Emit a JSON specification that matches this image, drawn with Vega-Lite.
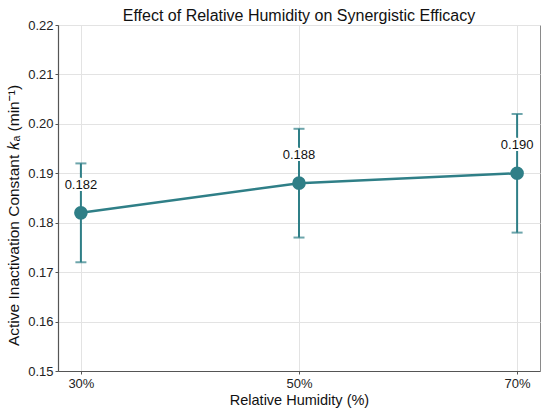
{
  "$schema": "https://vega.github.io/schema/vega-lite/v6.json",
  "width": 482,
  "height": 346,
  "autosize": {"type": "none"},
  "padding": {"left": 58, "top": 25, "right": 10, "bottom": 39},
  "title": {
    "text": "Effect of Relative Humidity on Synergistic Efficacy",
    "font": "Liberation Sans",
    "fontSize": 16,
    "fontWeight": "normal",
    "color": "#111",
    "frame": "group",
    "offset": -5
  },
  "data": {
    "values": [
      {"rh": 30, "ka": 0.182, "lo": 0.172, "hi": 0.192},
      {"rh": 50, "ka": 0.188, "lo": 0.177, "hi": 0.199},
      {"rh": 70, "ka": 0.190, "lo": 0.178, "hi": 0.202}
    ]
  },
  "encoding": {
    "x": {
      "field": "rh",
      "type": "quantitative",
      "scale": {"domain": [27.9, 72.1], "nice": false},
      "axis": {
        "values": [30, 50, 70],
        "labelExpr": "datum.value + '%'",
        "title": "Relative Humidity (%)",
        "titleFontSize": 14.5
      }
    }
  },
  "layer": [
    {
      "mark": {"type": "rule", "color": "#2f7f87", "strokeWidth": 2},
      "encoding": {
        "y": {
          "field": "lo",
          "type": "quantitative",
          "scale": {"domain": [0.15, 0.22], "nice": false},
          "axis": {
            "values": [0.15, 0.16, 0.17, 0.18, 0.19, 0.2, 0.21, 0.22],
            "format": ".2f",
            "title": "Active Inactivation Constant 𝑘ₐ (min⁻¹)",
            "titleFontSize": 15.5,
            "titleY": 190
          }
        },
        "y2": {"field": "hi"}
      }
    },
    {
      "mark": {"type": "tick", "orient": "horizontal", "color": "#2f7f87", "size": 11, "thickness": 2},
      "encoding": {"y": {"field": "lo", "type": "quantitative"}}
    },
    {
      "mark": {"type": "tick", "orient": "horizontal", "color": "#2f7f87", "size": 11, "thickness": 2},
      "encoding": {"y": {"field": "hi", "type": "quantitative"}}
    },
    {
      "mark": {"type": "line", "color": "#2f7f87", "strokeWidth": 2.5},
      "encoding": {"y": {"field": "ka", "type": "quantitative"}}
    },
    {
      "mark": {"type": "point", "filled": true, "color": "#2f7f87", "size": 185, "opacity": 1},
      "encoding": {"y": {"field": "ka", "type": "quantitative"}}
    },
    {
      "mark": {"type": "text", "dy": -28, "font": "Liberation Sans", "fontSize": 13, "stroke": "white", "strokeWidth": 4, "color": "white"},
      "encoding": {
        "y": {"field": "ka", "type": "quantitative"},
        "text": {"field": "ka", "type": "quantitative", "format": ".3f"}
      }
    },
    {
      "mark": {"type": "text", "dy": -28, "font": "Liberation Sans", "fontSize": 13, "color": "#111"},
      "encoding": {
        "y": {"field": "ka", "type": "quantitative"},
        "text": {"field": "ka", "type": "quantitative", "format": ".3f"}
      }
    }
  ],
  "config": {
    "view": {"stroke": "#8a8a8a", "strokeWidth": 1},
    "axis": {
      "labelFont": "Liberation Sans",
      "titleFont": "Liberation Sans",
      "labelFontSize": 13,
      "titleFontSize": 15,
      "titleFontWeight": "normal",
      "labelColor": "#222",
      "titleColor": "#111",
      "domainColor": "#555",
      "domainWidth": 1.2,
      "tickColor": "#555",
      "tickSize": 3,
      "gridColor": "#e3e3e3",
      "gridWidth": 1,
      "grid": true
    },
    "axisY": {"labelPadding": 2, "titlePadding": 6},
    "axisX": {"labelPadding": 3, "titlePadding": 3}
  }
}
